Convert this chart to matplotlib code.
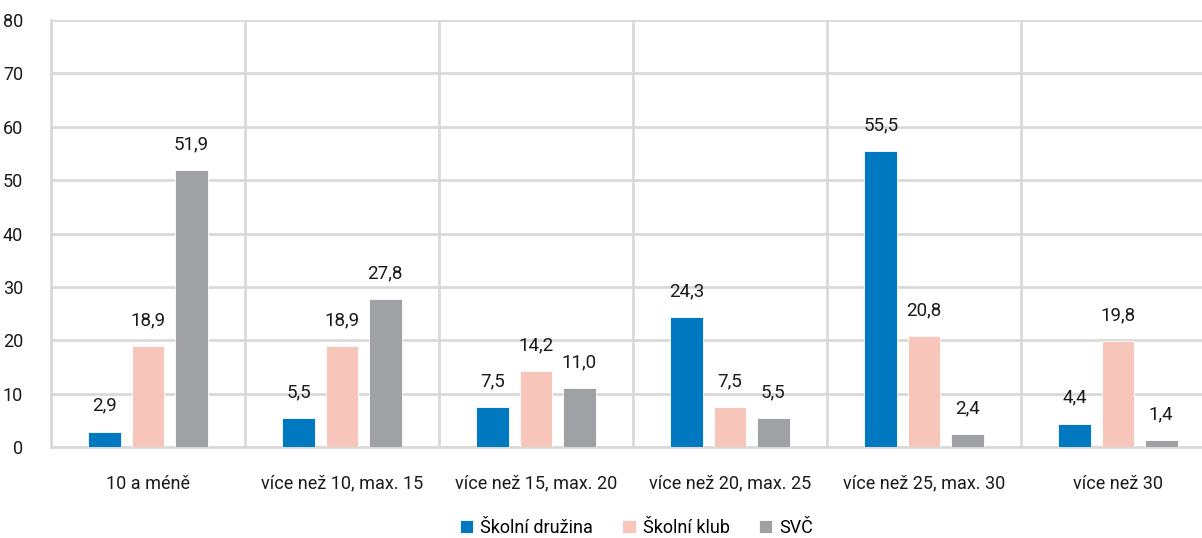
import numpy as np
import matplotlib
matplotlib.use('Agg')
import matplotlib.pyplot as plt

plt.rcParams['font.family'] = ['Roboto', 'DejaVu Sans']

categories = ['10 a méně', 'více než 10, max. 15', 'více než 15, max. 20',
              'více než 20, max. 25', 'více než 25, max. 30', 'více než 30']
series = ['Školní družina', 'Školní klub', 'SVČ']
druzina = [2.9, 5.5, 7.5, 24.3, 55.5, 4.4]
klub = [18.9, 18.9, 14.2, 7.5, 20.8, 19.8]
svc = [51.9, 27.8, 11.0, 5.5, 2.4, 1.4]
colors = ['#0079C1', '#F7C5B9', '#A0A1A5']

fig = plt.figure(figsize=(12.02, 5.38), dpi=100)
# axes runs past the right edge, like the cropped original
ax = fig.add_axes([51/1202, (538-447)/538, (1215-51)/1202, (447-20)/538])

x = np.arange(len(categories))
w = 0.17
step = 0.222
for i, (vals, name, col) in enumerate(zip([druzina, klub, svc], series, colors)):
    pos = x + (i-1)*step
    bars = ax.bar(pos, vals, w, color=col, label=name, edgecolor='white', linewidth=0.6, zorder=3)
    for b, v in zip(bars, vals):
        ax.annotate(f'{v:.1f}'.replace('.', ','), (b.get_x()+b.get_width()/2, v),
                    xytext=(0, 12), textcoords='offset points', ha='center', va='bottom',
                    fontsize=13.5, color='#1a1a1a')

ax.set_ylim(0, 80)
ax.set_xlim(-0.5, len(categories)-0.5)
ax.set_yticks(range(0, 81, 10))
ax.set_xticks(x)
ax.set_xticklabels(categories)
ax.set_xticks(np.arange(-0.5, len(categories), 1), minor=True)
ax.tick_params(axis='both', which='both', length=0, labelsize=13, colors='#1a1a1a')
ax.tick_params(axis='x', pad=20)
ax.tick_params(axis='y', pad=20)
ax.grid(axis='y', color='#D9D9D9', linewidth=2, zorder=0)
ax.grid(axis='x', which='minor', color='#D9D9D9', linewidth=2, zorder=0)
ax.grid(axis='x', which='major', visible=False)
for s in ['top', 'right']:
    ax.spines[s].set_visible(False)
ax.spines['left'].set_color('#D9D9D9')
ax.spines['left'].set_linewidth(2)
ax.spines['bottom'].set_color('#D9D9D9')
ax.spines['bottom'].set_linewidth(2)

ax.legend(loc='center', bbox_to_anchor=(0.503, -0.19), ncol=3, frameon=False,
          fontsize=13, handlelength=0.75, handleheight=0.75, handletextpad=0.4, columnspacing=1.6)

fig.savefig('out.png', dpi=100)
